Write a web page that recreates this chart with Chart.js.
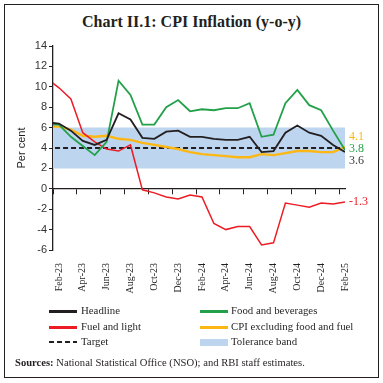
<!DOCTYPE html>
<html><head><meta charset="utf-8">
<script src="https://cdn.jsdelivr.net/npm/chart.js@4.4.1/dist/chart.umd.min.js"></script>
<style>
html,body{margin:0;padding:0;background:#fff;width:383px;height:383px;overflow:hidden}
#frame{position:absolute;left:4px;top:4px;width:373px;height:372px;border:1.5px solid #231f20;box-sizing:content-box}
#title{position:absolute;left:0;top:13px;width:383px;text-align:center;font:bold 16px "Liberation Serif",serif;color:#231f20}
canvas{position:absolute;left:0;top:0}
.lg{position:absolute;font:10.8px "Liberation Serif",serif;color:#231f20;line-height:14px;white-space:nowrap}
.sw{position:absolute}
#src{position:absolute;left:15px;top:357px;font:10.6px "Liberation Serif",serif;color:#231f20;white-space:nowrap}
</style></head>
<body>
<div id="frame"></div>
<div id="title">Chart II.1: CPI Inflation (y-o-y)</div>
<canvas id="c" width="383" height="383"></canvas>
<div id="legend"></div>
<div id="src"><b>Sources:</b> National Statistical Office (NSO); and RBI staff estimates.</div>
<script>
// Months (Jan-23 is only partly visible at the left edge of the plot)
const months = ['Jan-23','Feb-23','Mar-23','Apr-23','May-23','Jun-23','Jul-23','Aug-23','Sep-23','Oct-23','Nov-23','Dec-23',
  'Jan-24','Feb-24','Mar-24','Apr-24','May-24','Jun-24','Jul-24','Aug-24','Sep-24','Oct-24','Nov-24','Dec-24','Jan-25','Feb-25'];
const headline = [6.5,6.4,5.7,4.7,4.3,4.8,7.4,6.8,5.0,4.9,5.6,5.7,5.1,5.1,4.9,4.8,4.8,5.1,3.6,3.7,5.5,6.2,5.5,5.2,4.3,3.6];
const foodBev  = [6.3,6.3,5.1,4.2,3.3,4.6,10.6,9.2,6.3,6.3,8.0,8.7,7.6,7.8,7.7,7.9,7.9,8.4,5.1,5.3,8.4,9.7,8.2,7.7,5.7,3.8];
const fuel     = [10.8,9.9,8.8,5.5,4.6,3.9,3.7,4.3,-0.1,-0.4,-0.8,-1.0,-0.6,-0.8,-3.4,-4.0,-3.7,-3.7,-5.5,-5.3,-1.4,-1.6,-1.8,-1.4,-1.5,-1.3];
const core     = [6.1,6.1,5.8,5.2,5.1,5.2,4.9,4.8,4.5,4.3,4.1,3.9,3.6,3.4,3.3,3.2,3.1,3.1,3.4,3.3,3.5,3.7,3.7,3.6,3.6,4.1];
const target   = months.map(() => 4);
const bandLow  = 2, bandHigh = 6;
const yTicks   = [-6,-4,-2,0,2,4,6,8,10,12,14];
const seriesNames = ['Headline','Food and beverages','Fuel and light','CPI excluding food and fuel','Target','Tolerance band'];

const COL = {head:'#231f20', food:'#23a04a', fuel:'#ed1c24', core:'#fdb714', target:'#231f20', band:'#bdd5ee'};
const pts = arr => arr.map((v,i) => ({x:i, y:v}));
const labelIdx = months.map((m,i)=>i).filter(i => i % 2 === 1);   // Feb, Apr, ...
const xMin = 0.5, xMax = months.length - 1;

const endLabels = {
  id:'endLabels',
  afterDatasetsDraw(chart){
    const {ctx, chartArea, scales:{y}} = chart;
    const items = [
      {arr:core, color:COL.core, dy:-10},
      {arr:foodBev, color:COL.food, dy:-1.5},
      {arr:headline, color:'#3a3a3a', dy:9},
      {arr:fuel, color:COL.fuel, dy:0}
    ];
    ctx.save();
    ctx.font = '12px "Liberation Serif", serif';
    ctx.textBaseline = 'middle';
    ctx.textAlign = 'left';
    items.forEach(it => {
      const v = it.arr[it.arr.length-1];
      ctx.fillStyle = it.color;
      ctx.fillText(v.toFixed(1), chartArea.right + 4, y.getPixelForValue(v) + it.dy);
    });
    ctx.restore();
  }
};

const lineDs = (label, data, color, width, extra) => Object.assign({
  label, data: pts(data), borderColor: color, backgroundColor: color, borderWidth: width,
  pointRadius: 0, tension: 0, fill: false
}, extra || {});

new Chart(document.getElementById('c'), {
  type: 'line',
  data: {
    datasets: [
      lineDs('Headline', headline, COL.head, 1.8),
      lineDs('Food and beverages', foodBev, COL.food, 1.8),
      lineDs('Fuel and light', fuel, COL.fuel, 1.5),
      lineDs('CPI excluding food and fuel', core, COL.core, 2.4),
      lineDs('Target', target, COL.target, 2, {borderDash:[5,3]}),
      lineDs('Tolerance band', months.map(()=>bandHigh), 'rgba(0,0,0,0)', 0, {fill:{value:bandLow}, backgroundColor:COL.band})
    ]
  },
  options: {
    responsive: false, animation: false, devicePixelRatio: 1,
    layout: {padding: {top: 46, right: 38, bottom: 73, left: 0}},
    plugins: {legend:{display:false}, tooltip:{enabled:false}},
    scales: {
      x: {
        type:'linear', position:{y:0}, min:xMin, max:xMax,
        afterBuildTicks: s => { s.ticks = labelIdx.map(i => ({value: i - 0.5})); },
        ticks:{display:false},
        grid:{drawOnChartArea:false, drawTicks:true, tickLength:5, tickColor:'#231f20', tickWidth:1},
        border:{display:true, color:'#231f20', width:1.3}
      },
      x2: {
        type:'linear', axis:'x', position:'bottom', min:xMin, max:xMax,
        afterBuildTicks: s => { s.ticks = labelIdx.map(i => ({value: i})); },
        afterFit: s => { s.height = 60; },
        ticks:{autoSkip:false, minRotation:90, maxRotation:90, padding:13, color:'#231f20',
          font:{family:'"Liberation Serif", serif', size:10},
          callback: v => months[v]},
        grid:{display:false, drawTicks:false},
        border:{display:false}
      },
      y: {
        min:-6, max:14,
        afterBuildTicks: s => { s.ticks = yTicks.map(v => ({value:v})); },
        afterFit: s => { s.width = 53; },
        ticks:{color:'#333', padding:2, font:{family:'"Liberation Sans", sans-serif', size:11}},
        grid:{drawOnChartArea:false, drawTicks:true, tickLength:4, tickColor:'#231f20'},
        border:{display:true, color:'#231f20', width:1.3},
        title:{display:true, text:'Per cent', color:'#231f20', padding:{top:15, bottom:0},
          font:{family:'"Liberation Sans", sans-serif', size:11}}
      }
    }
  },
  plugins:[endLabels]
});

// HTML legend built from series names
const lgSpec = [
  {name:seriesNames[0], color:COL.head, type:'line'},
  {name:seriesNames[1], color:COL.food, type:'line'},
  {name:seriesNames[2], color:COL.fuel, type:'line'},
  {name:seriesNames[3], color:COL.core, type:'line'},
  {name:seriesNames[4], color:COL.target, type:'dash'},
  {name:seriesNames[5], color:COL.band, type:'box'}
];
const lg = document.getElementById('legend');
const rowsY = [311, 327, 342];
const colX = [{sw:49, tx:81}, {sw:200, tx:231}];
lgSpec.forEach((it, k) => {
  const r = Math.floor(k/2), c = k % 2;
  const sw = document.createElement('div');
  sw.className = 'sw';
  sw.style.left = colX[c].sw + 'px';
  sw.style.width = '28px';
  if (it.type === 'box') {
    sw.style.top = (rowsY[r]-3.5) + 'px'; sw.style.height = '7px'; sw.style.background = it.color;
  } else if (it.type === 'dash') {
    sw.style.top = (rowsY[r]-1) + 'px'; sw.style.height = '2px';
    sw.style.background = `repeating-linear-gradient(90deg, ${it.color} 0 5px, transparent 5px 8px)`;
  } else {
    sw.style.top = (rowsY[r]-1) + 'px'; sw.style.height = '2.5px'; sw.style.background = it.color;
  }
  lg.appendChild(sw);
  const t = document.createElement('div');
  t.className = 'lg';
  t.textContent = it.name;
  t.style.left = colX[c].tx + 'px';
  t.style.top = (rowsY[r]-8) + 'px';
  lg.appendChild(t);
});
</script>
</body></html>
